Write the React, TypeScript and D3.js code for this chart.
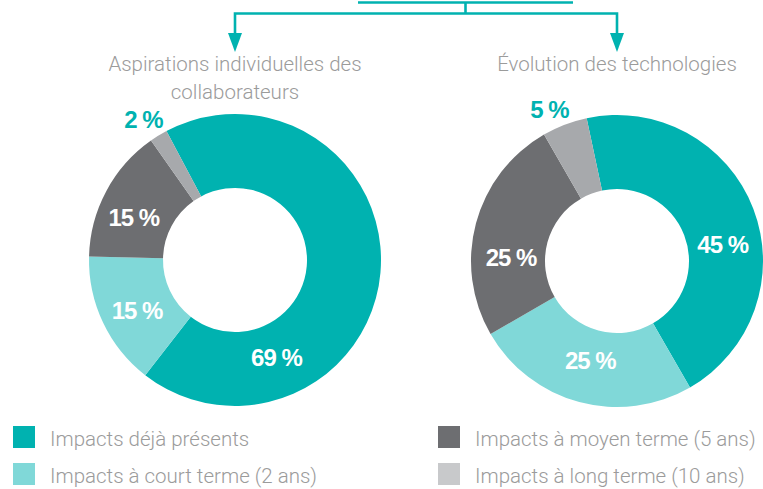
import * as d3 from "d3";
import React from "react";

// catégories et valeurs (en %)
const categories = [
  "Impacts déjà présents",
  "Impacts à court terme (2 ans)",
  "Impacts à moyen terme (5 ans)",
  "Impacts à long terme (10 ans)",
];
const aspirationsValues = [69, 15, 15, 2];
const technologiesValues = [45, 25, 25, 5];
const aspirationsTitle = ["Aspirations individuelles des", "collaborateurs"];
const technologiesTitle = ["Évolution des technologies"];

const sliceColors = ["#00b2b0", "#80d8d8", "#6d6e71", "#a7a9ac"];
const legendColors = ["#00b2b0", "#80d8d8", "#6d6e71", "#c8c9cb"];
const teal = "#00b2b0";
const textGray = "#9b9b9b";

const W = 763;
const H = 489;
const outerR = 146;
const innerR = 72;

type Donut = {
  cx: number;
  cy: number;
  values: number[];
  title: string[];
  start: number; // degrés
  labels: [number, number][]; // [angle en degrés, rayon]
};

const donuts: Donut[] = [
  {
    cx: 235,
    cy: 260,
    values: aspirationsValues,
    title: aspirationsTitle,
    start: -28,
    labels: [
      [157, 106],
      [243, 110],
      [293, 110],
      [327, 168],
    ],
  },
  {
    cx: 617,
    cy: 261,
    values: technologiesValues,
    title: technologiesTitle,
    start: -12,
    labels: [
      [81, 107],
      [195, 103],
      [272, 106],
      [336, 166],
    ],
  },
];

const rad = (deg: number) => (deg * Math.PI) / 180;

export default function App() {
  const arc = d3
    .arc<d3.PieArcDatum<number>>()
    .innerRadius(innerR)
    .outerRadius(outerR);

  const topY = 2.5;
  const midY = 13.5;
  const topX0 = 358;
  const topX1 = 573;
  const stubX = (topX0 + topX1) / 2;

  return (
    <svg
      width={W}
      height={H}
      style={{ position: "absolute", left: 0, top: 0, background: "#fff" }}
    >
      {/* flèches du haut */}
      <g stroke={teal} strokeWidth={2.6} fill="none">
        <line x1={topX0} y1={topY} x2={topX1} y2={topY} />
        <line x1={stubX} y1={topY} x2={stubX} y2={midY} />
        <path
          d={`M${donuts[0].cx},34 V${midY} H${donuts[1].cx} V34`}
          strokeLinejoin="miter"
        />
      </g>
      {donuts.map((d, i) => (
        <path
          key={"arrow" + i}
          d={`M${d.cx - 7},33 L${d.cx + 7},33 L${d.cx},52 Z`}
          fill={teal}
        />
      ))}

      {donuts.map((d, di) => {
        const pie = d3
          .pie<number>()
          .sort(null)
          .value((v) => v)
          .startAngle(rad(d.start))
          .endAngle(rad(d.start) + 2 * Math.PI);
        const arcs = pie(d.values);
        return (
          <g key={di}>
            {d.title.map((line, li) => (
              <text
                key={li}
                x={d.cx}
                y={71 + li * 28}
                textAnchor="middle"
                fontFamily="Roboto, 'Liberation Sans', sans-serif"
                fontWeight={300}
                fontSize={20.5}
                fill={textGray}
              >
                {line}
              </text>
            ))}
            <g transform={`translate(${d.cx},${d.cy})`}>
              {arcs.map((a, ai) => (
                <path key={ai} d={arc(a) || ""} fill={sliceColors[ai]} />
              ))}
              {arcs.map((a, ai) => {
                const [ang, r] = d.labels[ai];
                const [x, y] = d3.pointRadial(rad(ang), r);
                const outside = r > outerR;
                return (
                  <text
                    key={"l" + ai}
                    x={x}
                    y={y}
                    dy="0.36em"
                    textAnchor="middle"
                    fontFamily="'Liberation Sans', Arial, sans-serif"
                    fontWeight="bold"
                    fontSize={24}
                    letterSpacing={-1}
                    fill={outside ? teal : "#fff"}
                  >
                    {a.data} %
                  </text>
                );
              })}
            </g>
          </g>
        );
      })}

      {/* légende */}
      {categories.map((c, i) => {
        const col = Math.floor(i / 2);
        const row = i % 2;
        const x = col === 0 ? 13 : 438;
        const y = 426 + row * 37;
        return (
          <g key={c} transform={`translate(${x},${y})`}>
            <rect width={22} height={22} fill={legendColors[i]} />
            <text
              x={37}
              y={20}
              fontFamily="Roboto, 'Liberation Sans', sans-serif"
              fontWeight={300}
              fontSize={20.5}
              fill={textGray}
            >
              {c}
            </text>
          </g>
        );
      })}
    </svg>
  );
}
